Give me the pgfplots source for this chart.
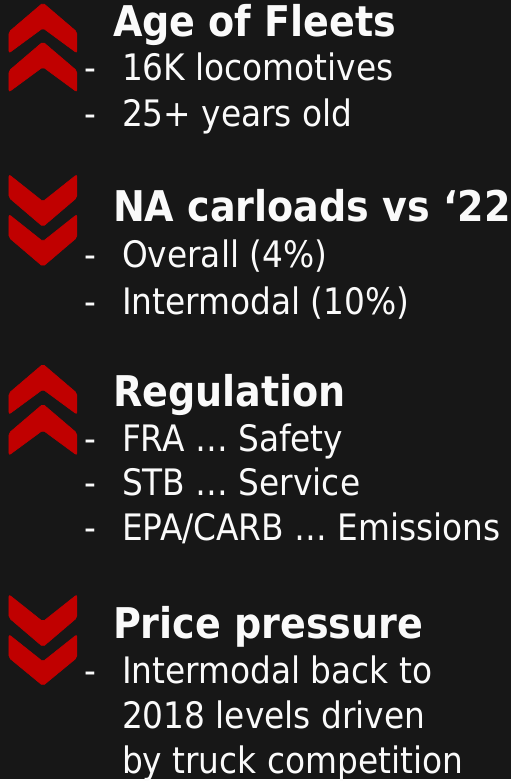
\documentclass[border=0pt]{standalone}
\usepackage{pgfplots}
\pgfplotsset{compat=1.18}
\usepackage{fontspec}
\setmainfont{DejaVu Sans Condensed}
\definecolor{bg}{HTML}{171717}
\definecolor{chev}{HTML}{C00000}
\definecolor{txt}{HTML}{FAFAFA}
\newcommand{\hd}{\fontsize{31.8}{36}\selectfont\bfseries}
\newcommand{\rg}{\fontsize{27.4}{32}\selectfont}
\begin{document}
\begin{tikzpicture}
\begin{axis}[
  width=384pt, height=585.75pt, scale only axis,
  xmin=0, xmax=512, ymin=0, ymax=781, y dir=reverse,
  axis lines=none, clip=false,
]
% background
\addplot[fill=bg, draw=none] coordinates {(0,0) (512,0) (512,781) (0,781)} -- cycle;
% up chevrons (Age of Fleets)
\addplot[fill=chev, draw=chev, line width=0.5pt, rounded corners=1.5pt] coordinates {(43,3) (77,32) (77,53) (43,28) (9,53) (9,32)} -- cycle;
\addplot[fill=chev, draw=chev, line width=0.5pt, rounded corners=1.5pt] coordinates {(43,42) (77,71) (77,92) (43,67) (9,92) (9,71)} -- cycle;
% down chevrons (NA carloads)
\addplot[fill=chev, draw=chev, line width=0.5pt, rounded corners=1.5pt] coordinates {(9,175) (43,202) (77,175) (77,198) (43,227) (9,198)} -- cycle;
\addplot[fill=chev, draw=chev, line width=0.5pt, rounded corners=1.5pt] coordinates {(9,215) (43,242) (77,215) (77,238) (43,267) (9,238)} -- cycle;
% up chevrons (Regulation)
\addplot[fill=chev, draw=chev, line width=0.5pt, rounded corners=1.5pt] coordinates {(43,365) (77,394) (77,415) (43,390) (9,415) (9,394)} -- cycle;
\addplot[fill=chev, draw=chev, line width=0.5pt, rounded corners=1.5pt] coordinates {(43,405) (77,434) (77,456) (43,431) (9,456) (9,434)} -- cycle;
% down chevrons (Price pressure)
\addplot[fill=chev, draw=chev, line width=0.5pt, rounded corners=1.5pt] coordinates {(9,596) (43,623) (77,596) (77,619) (43,648) (9,619)} -- cycle;
\addplot[fill=chev, draw=chev, line width=0.5pt, rounded corners=1.5pt] coordinates {(9,636) (43,663) (77,636) (77,659) (43,687) (9,659)} -- cycle;

\tikzset{hd/.style={anchor=base west, inner sep=0pt, text=txt, font=\hd},
         rg/.style={anchor=base west, inner sep=0pt, text=txt, font=\rg}}
% Section 1
\node[hd] at (axis cs:113,37) {Age of Fleets};
\node[rg] at (axis cs:84,81) {-};
\node[rg] at (axis cs:122,81) {16K locomotives};
\node[rg] at (axis cs:84,127) {-};
\node[rg] at (axis cs:122,127) {25+ years old};
% Section 2
\node[hd] at (axis cs:113,222) {NA carloads vs ‘22};
\node[rg] at (axis cs:84,268) {-};
\node[rg] at (axis cs:122,268) {Overall (4\%)};
\node[rg] at (axis cs:84,315) {-};
\node[rg] at (axis cs:122,315) {Intermodal (10\%)};
% Section 3
\node[hd] at (axis cs:113,407) {Regulation};
\node[rg] at (axis cs:84,452) {-};
\node[rg] at (axis cs:122,452) {FRA … Safety};
\node[rg] at (axis cs:84,497) {-};
\node[rg] at (axis cs:122,497) {STB … Service};
\node[rg] at (axis cs:84,542) {-};
\node[rg] at (axis cs:122,542) {EPA/CARB … Emissions};
% Section 4
\node[hd] at (axis cs:113,640) {Price pressure};
\node[rg] at (axis cs:84,685) {-};
\node[rg] at (axis cs:122,685) {Intermodal back to};
\node[rg] at (axis cs:122,730) {2018 levels driven};
\node[rg] at (axis cs:122,775) {by truck competition};
\end{axis}
\end{tikzpicture}
\end{document}
